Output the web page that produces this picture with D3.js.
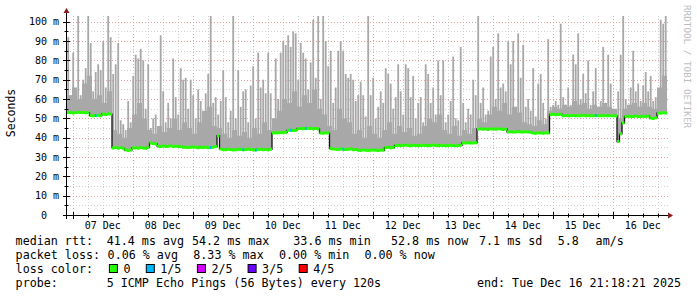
<!DOCTYPE html>
<html><head><meta charset="utf-8">
<script src="https://cdn.jsdelivr.net/npm/d3@7"></script>
<style>
body{margin:0;background:#fff}
svg{display:block}
text{font-family:"DejaVu Sans Mono",monospace;white-space:pre}
</style>
</head><body><svg id="c" width="697" height="297"></svg>
<script>
// ---- data (hourly buckets, values in ms) ----
const startTime = Date.UTC(2025, 11, 6, 21, 43);
const medianRtt = [
53.0,53.0,52.8,53.0,53.2,53.0,53.0,52.9,53.0,51.5,
51.3,51.5,51.6,51.4,52.3,52.0,52.4,52.2,34.7,34.9,
34.6,34.8,34.5,33.6,33.4,33.6,34.7,34.8,34.6,34.9,
34.7,34.5,35.0,37.3,37.0,36.8,35.6,35.4,35.7,35.5,
35.6,35.8,35.5,35.6,35.4,35.5,35.0,35.1,34.9,35.0,
35.2,35.0,34.8,35.0,34.9,35.0,34.8,34.9,35.1,35.4,
41.0,34.2,33.9,33.8,34.0,33.9,33.7,33.8,34.0,33.9,
33.8,33.9,34.1,33.9,33.8,33.7,33.9,34.0,33.8,33.9,
33.8,34.0,42.4,42.6,42.5,42.7,42.6,42.8,43.8,43.9,
43.7,43.9,44.7,44.8,44.6,44.7,44.9,44.7,44.6,44.8,
44.5,42.4,42.3,42.5,42.4,34.4,34.1,34.0,33.9,34.1,
34.0,33.9,34.0,34.1,33.8,33.9,33.5,33.4,33.6,33.5,
33.4,33.5,33.6,33.5,33.4,33.6,33.5,34.9,35.0,34.8,
34.9,36.0,36.1,35.9,36.0,36.2,36.0,35.9,36.1,36.0,
35.8,36.0,36.1,36.0,35.9,36.0,36.2,36.0,35.9,36.1,
36.0,35.9,36.0,36.1,36.0,35.8,36.0,36.1,37.3,37.2,
37.4,37.3,37.2,37.4,44.5,44.6,44.4,44.5,44.3,44.6,
44.5,44.4,44.6,44.5,44.3,44.5,43.0,43.1,42.9,43.0,
43.2,43.0,42.9,43.1,43.0,42.8,42.4,42.3,42.5,42.4,
42.3,42.5,42.4,52.0,52.1,51.9,52.0,52.2,51.4,51.5,
51.3,51.4,51.5,51.4,51.3,51.4,51.6,51.4,51.5,51.3,
51.4,51.5,51.4,51.3,51.4,51.5,51.4,51.3,51.4,51.2,
38.0,42.0,47.6,51.0,51.1,50.9,51.0,51.2,51.0,50.9,
51.1,51.0,51.2,50.2,50.0,50.3,52.8,52.7,52.9,52.8];
const maxRtt = [
92,62,84,64,103,62,70,76,103,89,
64,74,78,75,90,66,103,92,73,78,
89,49,47,44,59,48,72,83,81,86,
80,55,78,45,50,52,46,93,64,48,
58,50,81,61,52,76,70,71,55,70,
62,50,65,59,52,63,73,103,58,61,
52,59,75,61,48,54,103,50,75,56,
64,65,48,67,77,50,84,66,70,63,
84,63,50,81,60,84,90,88,93,87,
95,94,70,89,84,81,65,79,101,71,
103,60,103,90,77,85,58,66,85,90,
85,73,71,73,70,59,62,69,62,51,
103,62,71,50,56,64,58,76,73,68,
55,61,78,64,52,78,76,61,72,50,
58,61,48,78,73,58,66,52,80,62,
80,48,52,59,82,50,49,87,58,48,
55,52,70,62,103,58,66,52,54,82,
87,60,94,66,68,64,90,78,90,56,
94,71,88,56,60,54,76,51,68,73,
58,50,91,56,57,59,57,99,61,57,
66,57,83,78,94,60,73,63,80,57,
64,76,54,59,87,58,83,68,55,54,
64,83,103,60,57,66,85,64,68,59,
67,74,64,72,59,61,60,101,99,103];
// dense (second highest ping) part of the smoke, 2-hour buckets
const denseRtt = [
62,66,60,68,72,60,62,58,64,44,
42,40,45,52,58,50,44,42,46,43,
45,50,44,48,45,42,48,54,56,46,
45,42,40,44,41,43,40,45,42,48,
44,50,54,60,58,64,56,62,58,65,
55,52,46,44,55,50,48,42,44,40,
46,42,40,44,48,42,46,43,45,41,
42,46,50,48,52,44,42,46,41,44,
42,45,50,48,52,56,54,58,52,56,
53,48,47,46,49,47,54,56,55,57,
56,59,57,58,55,57,56,58,56,55,
50,55,57,58,56,58,56,55,66,72];
// hours (index into the series) where 1 of 5 pings was lost
const lossOneHours = [11, 57, 70, 75, 89, 95, 110, 211];
const yTickValues = [0,10,20,30,40,50,60,70,80,90,100];
const yTickLabels = ["0  ","10 m","20 m","30 m","40 m","50 m","60 m","70 m","80 m","90 m","100 m"];
const rttLegend = ["median rtt:","41.4 ms avg","54.2 ms max","33.6 ms min","52.8 ms now","7.1 ms sd","5.8","am/s"];
const lossLegend = ["packet loss:","0.06 % avg","8.33 % max","0.00 % min","0.00 % now"];
const lossColorLabels = ["0","1/5","2/5","3/5","4/5"];
const probeLegend = ["probe:","5 ICMP Echo Pings (56 Bytes) every 120s","end: Tue Dec 16 21:18:21 2025"];
const yUnitLabel = "Seconds";
const watermark = "RRDTOOL / TOBI OETIKER";

// ---- styles / layout ----
const lossColors = ["#26ff00","#00b8ff","#d400ff","#6a00ff","#ff0000"];
const svg = d3.select("#c");
const HOUR = 3600e3;
const n = medianRtt.length;
const x = d3.scaleUtc().domain([new Date(startTime), new Date(startTime + n*HOUR)]).range([67, 667]);
const y = d3.scaleLinear().domain([0, 103.5]).range([215, 15]);
const pts = medianRtt.map((m,i)=>({t:new Date(startTime+i*HOUR), m, mx:maxRtt[i], dn:Math.max(m, denseRtt[Math.floor(i/2)])}));
const ptsExt = pts.concat([{t:new Date(startTime+n*HOUR), m:medianRtt[n-1], mx:maxRtt[n-1], dn:pts[n-1].dn}]);

svg.append("rect").attr("width",697).attr("height",297).attr("fill","#fff");
svg.append("defs").append("clipPath").attr("id","pc").append("rect")
  .attr("x",67).attr("y",15).attr("width",600).attr("height",200);

// grid
const g = svg.append("g");
const [d0,d1] = x.domain();
d3.utcHour.every(6).range(d0,d1).forEach(t=>{
  const isDay = t.getUTCHours()===0;
  g.append("line").attr("x1",Math.round(x(t))+0.5).attr("x2",Math.round(x(t))+0.5)
   .attr("y1",215).attr("y2",15)
   .attr("stroke", isDay ? "#e6a0a0" : "#cfcfcf").attr("stroke-dasharray","1,2");
});
d3.range(5,101,5).forEach(v=>{
  const major = v%10===0;
  g.append("line").attr("x1",67).attr("x2",668)
   .attr("y1",Math.round(y(v))+0.5).attr("y2",Math.round(y(v))+0.5)
   .attr("stroke", major ? "#e6a0a0" : "#cfcfcf").attr("stroke-dasharray","1,2");
});

// smoke
const plot = svg.append("g").attr("clip-path","url(#pc)");
plot.append("path").datum(ptsExt)
  .attr("d", d3.area().curve(d3.curveStepAfter).x(d=>x(d.t)).y0(d=>y(d.m)).y1(d=>y(d.dn)))
  .attr("fill","#aaaaaa");
plot.selectAll("rect.spike").data(pts).join("rect").attr("class","spike")
  .attr("x",d=>x(d.t)+0.3).attr("width",1.8)
  .attr("y",d=>y(d.mx)).attr("height",d=>Math.max(0,y(d.m)-y(d.mx)))
  .attr("fill","#a8a8a8");
// median step (dark connectors)
plot.append("path").datum(ptsExt)
  .attr("d", d3.line().curve(d3.curveStepAfter).x(d=>x(d.t)).y(d=>y(d.m)))
  .attr("fill","none").attr("stroke","#111").attr("stroke-width",1.3);
// median horizontal segments in loss colour
const p = d3.path();
pts.forEach((d,i)=>{ const yy=y(d.m); p.moveTo(x(d.t),yy); p.lineTo(x(ptsExt[i+1].t),yy); });
plot.append("path").attr("d",p.toString()).attr("fill","none")
  .attr("stroke",lossColors[0]).attr("stroke-width",3);
plot.selectAll("line.loss").data(lossOneHours).join("line").attr("class","loss")
  .attr("x1",i=>x(pts[i].t)+0.5).attr("x2",i=>x(pts[i].t)+2.2)
  .attr("y1",i=>y(pts[i].m)).attr("y2",i=>y(pts[i].m))
  .attr("stroke",lossColors[1]).attr("stroke-width",3);

// axes
const ax = svg.append("g");
ax.append("line").attr("x1",63).attr("x2",669).attr("y1",215.5).attr("y2",215.5).attr("stroke","#000");
ax.append("line").attr("x1",66.5).attr("x2",66.5).attr("y1",219).attr("y2",12).attr("stroke","#000");
ax.append("path").attr("d","M668,212.5L673,215.5L668,218.5Z").attr("fill","#8b1a1a");
ax.append("path").attr("d","M63.5,13L66.5,8L69.5,13Z").attr("fill","#8b1a1a");
d3.utcHour.every(6).range(d0,d1).forEach(t=>{
  const xx = Math.round(x(t))+0.5, isDay = t.getUTCHours()===0;
  ax.append("line").attr("x1",xx).attr("x2",xx).attr("y1",isDay?212:213.5).attr("y2",isDay?219:217.5).attr("stroke","#000");
});
d3.range(5,101,5).forEach(v=>{
  const yy = Math.round(y(v))+0.5, major=v%10===0;
  ax.append("line").attr("x1",major?63:64.5).attr("x2",major?70:68.5).attr("y1",yy).attr("y2",yy).attr("stroke","#000");
});
yTickValues.forEach((v,i)=>{
  ax.append("text").attr("x",59).attr("y",y(v)+3.6).attr("text-anchor","end")
   .attr("font-size",10).text(yTickLabels[i]);
});
d3.utcDay.range(d3.utcDay.ceil(d0), d1).forEach(t=>{
  const c = new Date(+t + 12*HOUR);
  if (c < d1) ax.append("text").attr("x",x(c)).attr("y",229).attr("text-anchor","middle")
   .attr("font-size",10).text(d3.utcFormat("%d %b")(c));
});
svg.append("text").attr("transform","translate(15,113) rotate(-90)").attr("text-anchor","middle")
  .attr("font-size",11.5).text(yUnitLabel);
svg.append("text").attr("transform","translate(684,5) rotate(90)").attr("font-size",9.3)
  .attr("fill","#bdbdbd").text(watermark);

// legend
const L = svg.append("g").attr("font-size",11.7);
const row1x = [15.6,106.7,192,293.3,391,479,557.8,595.6];
rttLegend.forEach((s,i)=>L.append("text").attr("x",row1x[i]).attr("y",245).text(s));
const row2x = [15.6,107.6,193.3,279,364.4];
lossLegend.forEach((s,i)=>L.append("text").attr("x",row2x[i]).attr("y",259).text(s));
L.append("text").attr("x",15.6).attr("y",273).text("loss color:");
const boxX = [108.9,145.8,196.9,247.6,298.7];
lossColorLabels.forEach((s,i)=>{
  L.append("rect").attr("x",boxX[i]+0.5).attr("y",264.5).attr("width",8).attr("height",8)
   .attr("fill",lossColors[i]).attr("stroke","#000");
  L.append("text").attr("x",boxX[i]+14.5).attr("y",273).text(s);
});
L.append("text").attr("x",15.6).attr("y",287).text(probeLegend[0]);
L.append("text").attr("x",106.7).attr("y",287).text(probeLegend[1]);
L.append("text").attr("x",681).attr("y",287).attr("text-anchor","end").text(probeLegend[2]);
</script></body></html>
